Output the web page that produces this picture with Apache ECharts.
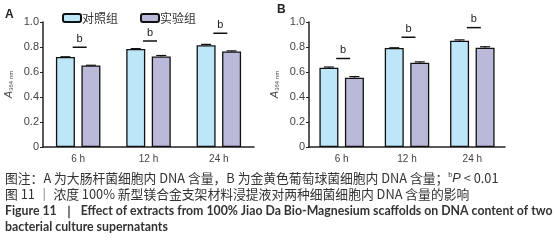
<!DOCTYPE html>
<html>
<head>
<meta charset="utf-8">
<script src="https://cdn.jsdelivr.net/npm/echarts@6/dist/echarts.min.js"></script>
<style>
  html, body { margin: 0; padding: 0; background: #fff; }
  #chart { width: 556px; height: 240px; }
</style>
</head>
<body>
<div id="chart"></div>
<script>
const categories = ['6 h', '12 h', '24 h']
const seriesNames = ['对照组', '实验组']

// A: E. coli, B: S. aureus
const controlA = [0.72, 0.785, 0.815]
const experA = [0.652, 0.724, 0.764]
const controlErrA = [0.002, 0.002, 0.006]
const experErrA = [0.002, 0.008, 0.005]
const sigA = [0.798, 0.848, 0.91]

const controlB = [0.635, 0.792, 0.851]
const experB = [0.555, 0.675, 0.795]
const controlErrB = [0.005, 0.002, 0.006]
const experErrB = [0.008, 0.006, 0.007]
const sigB = [0.708, 0.878, 0.955]

const yTicks = { min: 0, max: 1, interval: 0.2 }

const BLUE = '#bde6f8'
const PURPLE = '#bab9d9'
const BAR_W = 19
const BAR_GAP = 6.5

const font = '"Noto Sans CJK SC", "Liberation Sans", sans-serif'

function xAxisOf(gridIndex) {
  return {
    type: 'category',
    gridIndex,
    data: categories,
    axisLine: { lineStyle: { color: '#222', width: 1.5 } },
    axisTick: { alignWithLabel: true, length: 3, lineStyle: { color: '#222' } },
    axisLabel: { color: '#444', fontSize: 10, margin: 7, fontFamily: 'Liberation Sans' }
  }
}

function yAxisOf(gridIndex) {
  return {
    type: 'value',
    gridIndex,
    ...yTicks,
    splitLine: { show: false },
    axisLine: { show: true, lineStyle: { color: '#222', width: 1.5 } },
    axisTick: { show: true, length: 3, lineStyle: { color: '#222' } },
    axisLabel: {
      color: '#444', fontSize: 11, margin: 4, fontFamily: 'Liberation Sans',
      formatter: v => v === 0 ? '0' : v.toFixed(1)
    },
    name: '{a|A}{s|364 nm}',
    nameLocation: 'middle',
    nameRotate: 90,
    nameGap: 29,
    nameTextStyle: {
      rich: {
        a: { fontSize: 11, fontStyle: 'italic', color: '#444', fontFamily: 'Liberation Sans' },
        s: { fontSize: 6, color: '#444', fontFamily: 'Liberation Sans', verticalAlign: 'bottom', padding: [5, 0, 0, 0] }
      }
    }
  }
}

function barSeries(name, data, color, idx) {
  return {
    name,
    type: 'bar',
    xAxisIndex: idx,
    yAxisIndex: idx,
    data,
    barWidth: BAR_W,
    barGap: (BAR_GAP / BAR_W * 100) + '%',
    itemStyle: { color, borderColor: '#111', borderWidth: 1.3 },
    emphasis: { disabled: true }
  }
}

// small error caps, shifted onto the bar they belong to
function errSeries(values, errs, side, idx) {
  const shift = side * (BAR_W + BAR_GAP) / 2
  return {
    type: 'custom',
    xAxisIndex: idx,
    yAxisIndex: idx,
    silent: true,
    z: 5,
    data: values.map((v, i) => [i, v, v + errs[i]]),
    renderItem(params, api) {
      const lo = api.coord([api.value(0), api.value(1)])
      const hi = api.coord([api.value(0), api.value(2)])
      const x = lo[0] + shift
      return {
        type: 'group',
        children: [
          { type: 'line', shape: { x1: x, y1: lo[1], x2: x, y2: hi[1] }, style: { stroke: '#111', lineWidth: 1.2 } },
          { type: 'line', shape: { x1: x - 5, y1: hi[1], x2: x + 5, y2: hi[1] }, style: { stroke: '#111', lineWidth: 1.2 } }
        ]
      }
    }
  }
}

function sigSeries(data, idx) {
  return {
    type: 'custom',
    xAxisIndex: idx,
    yAxisIndex: idx,
    silent: true,
    z: 6,
    data: data.map((v, i) => [i, v]),
    renderItem(params, api) {
      const p = api.coord([api.value(0), api.value(1)])
      const x = p[0] + 1.5
      return {
        type: 'group',
        children: [
          { type: 'line', shape: { x1: x - 7, y1: p[1], x2: x + 7, y2: p[1] }, style: { stroke: '#111', lineWidth: 1.5 } },
          { type: 'text', x: x, y: p[1] - 3, style: { text: 'b', fontSize: 11, fill: '#222', fontFamily: 'Liberation Sans', align: 'center', verticalAlign: 'bottom' } }
        ]
      }
    }
  }
}

const myChart = echarts.init(document.getElementById('chart'), null, { renderer: 'canvas' })

const option = {
  animation: false,
  textStyle: { fontFamily: font },
  legend: {
    data: seriesNames,
    left: 57,
    top: 7,
    itemWidth: 18,
    itemHeight: 8,
    itemGap: 22,
    selectedMode: false,
    textStyle: { fontSize: 12, color: '#333', fontFamily: font, padding: [0, 0, 0, -4] }
  },
  grid: [
    { left: 43, top: 22, width: 211, height: 125 },
    { left: 309, top: 22, width: 196, height: 125 }
  ],
  xAxis: [xAxisOf(0), xAxisOf(1)],
  yAxis: [yAxisOf(0), yAxisOf(1)],
  series: [
    barSeries(seriesNames[0], controlA, BLUE, 0),
    barSeries(seriesNames[1], experA, PURPLE, 0),
    barSeries(seriesNames[0], controlB, BLUE, 1),
    barSeries(seriesNames[1], experB, PURPLE, 1),
    errSeries(controlA, controlErrA, -1, 0),
    errSeries(experA, experErrA, 1, 0),
    errSeries(controlB, controlErrB, -1, 1),
    errSeries(experB, experErrB, 1, 1),
    sigSeries(sigA, 0),
    sigSeries(sigB, 1)
  ],
  graphic: [
    { type: 'text', left: 5, top: 9, style: { text: 'A', fontSize: 12, fontWeight: 'bold', fill: '#222', fontFamily: 'Liberation Sans' } },
    { type: 'text', left: 277, top: 4, style: { text: 'B', fontSize: 12, fontWeight: 'bold', fill: '#222', fontFamily: 'Liberation Sans' } },
    {
      type: 'text', left: 5, top: 172,
      style: {
        text: '图注：A 为大肠杆菌细胞内 DNA 含量，B 为金黄色葡萄球菌细胞内 DNA 含量；{sup|b}{i|P} < 0.01',
        fontSize: 12.8, fill: '#333', fontFamily: font,
        rich: {
          sup: { fontSize: 7, fill: '#333', verticalAlign: 'top', padding: [0, 0, 6, 0] },
          i: { fontSize: 12.8, fill: '#333', fontStyle: 'italic', fontFamily: 'Liberation Sans' }
        }
      }
    },
    {
      type: 'text', left: 5, top: 188,
      style: { text: '图 11 ｜ 浓度 100% 新型镁合金支架材料浸提液对两种细菌细胞内 DNA 含量的影响', fontSize: 12.8, fill: '#333', fontFamily: font }
    },
    {
      type: 'text', left: 5, top: 205,
      style: { text: 'Figure 11  ｜  Effect of extracts from 100% Jiao Da Bio-Magnesium scaffolds on DNA content of two', fontSize: 12.3, fontWeight: 'bold', fill: '#333', fontFamily: 'Lato' }
    },
    {
      type: 'text', left: 5, top: 221,
      style: { text: 'bacterial culture supernatants', fontSize: 12.3, fontWeight: 'bold', fill: '#333', fontFamily: 'Lato' }
    }
  ]
}

myChart.setOption(option)
</script>
</body>
</html>
